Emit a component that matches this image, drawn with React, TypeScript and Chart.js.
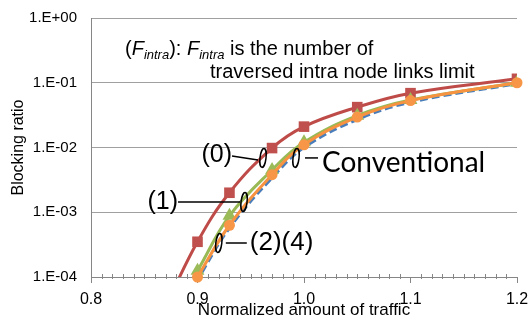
import React, { useEffect, useRef } from 'react';
import { Chart, registerables } from 'chart.js';
Chart.register(...registerables);

// ---- data ----
const trafficX = [0.87, 0.9, 0.93, 0.97, 1.0, 1.05, 1.1, 1.2];
const fintra0 = [3.5e-5, 3.5e-4, 2.0e-3, 9.8e-3, 2.1e-2, 4.2e-2, 6.9e-2, 0.115];
const fintra1 = [1.9e-5, 1.25e-4, 8.8e-4, 4.5e-3, 1.2e-2, 3.1e-2, 5.4e-2, 0.1];
const fintra24 = [1.5e-5, 1.0e-4, 6.3e-4, 3.8e-3, 1.1e-2, 2.95e-2, 5.3e-2, 0.1];
const conventional = [1.3e-5, 9.0e-5, 5.7e-4, 3.4e-3, 1.0e-2, 2.7e-2, 5.0e-2, 0.097];
const xTicks = [0.8, 0.9, 1.0, 1.1, 1.2];
const yTicks = [1e-4, 1e-3, 1e-2, 1e-1, 1];
const yTickLabels = ['1.E-04', '1.E-03', '1.E-02', '1.E-01', '1.E+00'];
const xTitle = 'Normalized amount of traffic';
const yTitle = 'Blocking ratio';

const SANS = '"Liberation Sans", Arial, sans-serif';
const AXIS = '#868686';
const GRID = '#a0a0a0';

const pts = (ys: number[]) => trafficX.map((x, i) => ({ x, y: ys[i] }));
const visR = (r: number) => (c: any) => (c.raw && c.raw.y < 1e-4 * 0.95 ? 0 : r);

// annotation anchors (data coords of the ellipse that marks a curve group)
type Note = { text: string; ax: number; ay: number; l1: [number, number]; l2: [number, number]; tx: number; ty: number; align: CanvasTextAlign; font: string };
const notes: Note[] = [
  { text: '(0)', ax: 0.9615, ay: 6.9e-3, l1: [-31, -2], l2: [-5, 2], tx: -31, ty: -3, align: 'right', font: `25px ${SANS}` },
  { text: 'Conventional', ax: 0.9925, ay: 6.9e-3, l1: [9, 0], l2: [22, 0], tx: 26, ty: 5, align: 'left', font: `28px Lato, "Open Sans", sans-serif` },
  { text: '(1)', ax: 0.9437, ay: 1.44e-3, l1: [-66, 0], l2: [-4, 0], tx: -66, ty: 0, align: 'right', font: `25px ${SANS}` },
  { text: '(2)(4)', ax: 0.92, ay: 3.35e-4, l1: [7, 0], l2: [28, 0], tx: 31, ty: 0, align: 'left', font: `26px ${SANS}` },
];

const minorTicks = {
  id: 'minorTicks',
  beforeDatasetsDraw(chart: any) {
    const { ctx, scales, chartArea } = chart;
    const x = scales.x;
    ctx.save();
    ctx.strokeStyle = AXIS;
    ctx.lineWidth = 1;
    for (let i = 1; i < 40; i++) {
      if (i % 10 === 0) continue;
      const px = Math.round(x.getPixelForValue(0.8 + i * 0.01)) + 0.5;
      ctx.beginPath();
      ctx.moveTo(px, chartArea.bottom - 3);
      ctx.lineTo(px, chartArea.bottom + 2);
      ctx.stroke();
    }
    ctx.restore();
  },
};

const notesPlugin = {
  id: 'notes',
  afterDatasetsDraw(chart: any) {
    const { ctx, scales, chartArea } = chart;
    const { x, y } = scales;
    ctx.save();
    ctx.fillStyle = '#000';
    ctx.strokeStyle = '#000';
    ctx.textBaseline = 'middle';
    for (const n of notes) {
      const cx = x.getPixelForValue(n.ax);
      const cy = y.getPixelForValue(n.ay);
      ctx.lineWidth = 1.5;
      ctx.beginPath();
      ctx.ellipse(cx, cy, 3, 9.5, 0.12, 0, Math.PI * 2);
      ctx.stroke();
      ctx.beginPath();
      ctx.moveTo(cx + n.l1[0], cy + n.l1[1]);
      ctx.lineTo(cx + n.l2[0], cy + n.l2[1]);
      ctx.stroke();
      ctx.font = n.font;
      ctx.textAlign = n.align;
      ctx.fillText(n.text, cx + n.tx, cy + n.ty);
    }
    // explanation text
    ctx.textAlign = 'left';
    ctx.textBaseline = 'alphabetic';
    const big = `20px ${SANS}`;
    const bigI = `italic 20px ${SANS}`;
    const sub = `italic 13px ${SANS}`;
    const parts: [string, string, number][] = [
      ['(', big, 0], ['F', bigI, 0], ['intra', sub, 4], ['): ', big, 0],
      ['F', bigI, 0], ['intra', sub, 4], [' is the number of', big, 0],
    ];
    let px = chartArea.left + 34;
    const b1 = chartArea.top + 37;
    for (const [t, f, dy] of parts) {
      ctx.font = f;
      ctx.fillText(t, px, b1 + dy);
      px += ctx.measureText(t).width;
    }
    ctx.font = big;
    ctx.fillText('traversed intra node links limit', chartArea.left + 119, chartArea.top + 60);
    ctx.restore();
  },
};

export default function App() {
  const ref = useRef<HTMLCanvasElement>(null);
  useEffect(() => {
    document.body.style.margin = '0';
    const chart = new Chart(ref.current!, {
      type: 'line',
      data: {
        datasets: [
          {
            label: '(2)(4) markers',
            data: pts(fintra24),
            showLine: false,
            clip: false as any,
            pointStyle: 'circle',
            pointRadius: visR(5.5) as any,
            pointBackgroundColor: '#f79646',
            pointBorderColor: '#f79646',
            pointBorderWidth: 0,
          },
          {
            label: '(2)(4)',
            data: pts(fintra24),
            borderColor: '#f69240',
            borderWidth: 3,
            tension: 0.4,
            pointRadius: 0,
          },
          {
            label: '(1)',
            data: pts(fintra1),
            borderColor: '#98b954',
            borderWidth: 3,
            tension: 0.4,
            pointStyle: 'triangle',
            pointRadius: visR(5) as any,
            pointBackgroundColor: '#9bbb59',
            pointBorderColor: '#9bbb59',
          },
          {
            label: '(0)',
            data: pts(fintra0),
            borderColor: '#be4b48',
            borderWidth: 3,
            tension: 0.4,
            pointStyle: 'rect',
            pointRadius: visR(7.5) as any,
            pointBackgroundColor: '#c0504d',
            pointBorderColor: '#c0504d',
            pointBorderWidth: 0,
          },
          {
            label: 'Conventional',
            data: pts(conventional),
            borderColor: '#4a7ebb',
            borderWidth: 3,
            borderDash: [8, 4],
            tension: 0.4,
            pointRadius: 0,
          },
        ],
      },
      options: {
        responsive: false,
        animation: false,
        layout: { padding: { top: 18, right: 11, left: 0, bottom: 0 } },
        plugins: { legend: { display: false }, tooltip: { enabled: false } },
        scales: {
          x: {
            type: 'linear',
            min: 0.8,
            max: 1.2,
            afterBuildTicks: (s: any) => { s.ticks = xTicks.map((v) => ({ value: v })); },
            afterFit: (s: any) => { s.height = 45; s.paddingRight = 0; s.paddingLeft = 0; },
            ticks: {
              callback: (v: any) => Number(v).toFixed(1),
              font: { family: SANS, size: 16 },
              color: '#000',
              padding: 7,
              maxRotation: 0,
              autoSkip: false,
            },
            grid: { drawOnChartArea: false, drawTicks: true, tickLength: 6, tickColor: AXIS },
            border: { color: AXIS },
            title: {
              display: true,
              text: xTitle,
              font: { family: SANS, size: 17 },
              color: '#000',
              padding: { top: 0, bottom: 1 },
            },
          },
          y: {
            type: 'logarithmic',
            min: 1e-4,
            max: 1,
            afterBuildTicks: (s: any) => { s.ticks = yTicks.map((v) => ({ value: v })); },
            afterFit: (s: any) => { s.width = 91; s.paddingTop = 0; s.paddingBottom = 0; },
            ticks: {
              callback: (_v: any, i: number) => yTickLabels[i],
              font: { family: SANS, size: 15 },
              color: '#000',
              padding: 14,
              autoSkip: false,
            },
            grid: { color: GRID, drawTicks: false },
            border: { color: AXIS },
            title: {
              display: true,
              text: yTitle,
              font: { family: SANS, size: 16 },
              color: '#000',
              padding: { top: 9, bottom: 0 },
            },
          },
        },
      },
      plugins: [minorTicks, notesPlugin],
    });
    return () => chart.destroy();
  }, []);
  return (
    <div style={{ width: 528, height: 322 }}>
      <canvas ref={ref} width={528} height={322} style={{ display: 'block' }} />
    </div>
  );
}
